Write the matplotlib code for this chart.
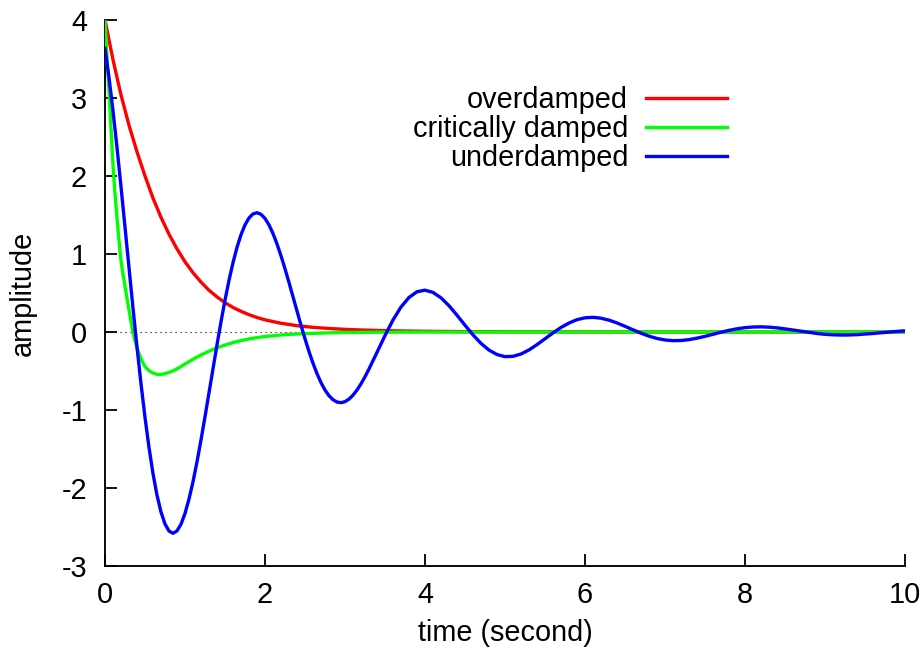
import matplotlib
matplotlib.use("Agg")
import matplotlib.pyplot as plt

plt.rcParams['font.family'] = ['Liberation Sans', 'DejaVu Sans']

# ---- data ----
t_over = [0.0, 0.1, 0.2, 0.3, 0.4, 0.5, 0.6, 0.7, 0.8, 0.9, 1.0, 1.1, 1.2, 1.3,
          1.4, 1.5, 1.6, 1.7, 1.8, 1.9, 2.0, 2.2, 2.4, 2.6, 2.8, 3.0, 3.2, 3.4,
          3.6, 3.8, 4.0, 4.5, 5.0, 6.0, 7.0, 8.0, 9.0, 10.0]
overdamped = [4.00, 3.49, 3.04, 2.65, 2.31, 2.00, 1.716, 1.47, 1.254, 1.065,
              0.90, 0.76, 0.64, 0.535, 0.45, 0.375, 0.315, 0.265, 0.222, 0.186,
              0.156, 0.112, 0.081, 0.060, 0.045, 0.034, 0.026, 0.020, 0.015,
              0.012, 0.009, 0.005, 0.003, 0.001, 0.0, 0.0, 0.0, 0.0]

t_crit = [0.0, 0.025, 0.05, 0.075, 0.1, 0.125, 0.15, 0.175, 0.2, 0.225, 0.25,
          0.275, 0.3, 0.325, 0.35, 0.375, 0.4, 0.45, 0.5, 0.55, 0.6, 0.65, 0.7,
          0.75, 0.8, 0.85, 0.9, 0.95, 1.0, 1.1, 1.2, 1.3, 1.4, 1.5, 1.6, 1.7,
          1.8, 1.9, 2.0, 2.2, 2.4, 2.6, 2.8, 3.0, 3.5, 4.0, 5.0, 6.0, 7.0, 8.0,
          9.0, 10.0]
critical = [4.00, 3.53, 3.08, 2.60, 2.14, 1.77, 1.46, 1.17, 0.915, 0.74, 0.585,
            0.43, 0.285, 0.135, -0.01, -0.11, -0.205, -0.345, -0.445, -0.495,
            -0.527, -0.543, -0.544, -0.534, -0.518, -0.498, -0.472, -0.442,
            -0.41, -0.35, -0.295, -0.246, -0.203, -0.167, -0.136, -0.110,
            -0.089, -0.072, -0.058, -0.038, -0.025, -0.017, -0.011, -0.007,
            -0.002, -0.001, 0.0, 0.0, 0.0, 0.0, 0.0, 0.0]

t_under = [0.00, 0.05, 0.10, 0.15, 0.20, 0.25, 0.30, 0.35, 0.40, 0.45, 0.50,
           0.55, 0.60, 0.65, 0.70, 0.75, 0.80, 0.85, 0.90, 0.95, 1.00, 1.05,
           1.10, 1.15, 1.20, 1.25, 1.30, 1.35, 1.40, 1.45, 1.50, 1.55, 1.60,
           1.65, 1.70, 1.75, 1.80, 1.85, 1.90, 1.95, 2.00, 2.05, 2.10, 2.15,
           2.20, 2.25, 2.30, 2.35, 2.40, 2.45, 2.50, 2.55, 2.60, 2.65, 2.70,
           2.75, 2.80, 2.85, 2.90, 2.95, 3.00, 3.05, 3.10, 3.15, 3.20, 3.25,
           3.30, 3.35, 3.40, 3.45, 3.50, 3.6, 3.7, 3.8, 3.9, 4.0, 4.1, 4.2,
           4.3, 4.4, 4.5, 4.6, 4.7, 4.8, 4.9, 5.0, 5.1, 5.2, 5.3, 5.4, 5.5,
           5.6, 5.7, 5.8, 5.9, 6.0, 6.1, 6.2, 6.3, 6.4, 6.5, 6.6, 6.7, 6.8,
           6.9, 7.0, 7.1, 7.2, 7.3, 7.4, 7.5, 7.6, 7.7, 7.8, 7.9, 8.0, 8.1,
           8.2, 8.3, 8.4, 8.5, 8.6, 8.7, 8.8, 8.9, 9.0, 9.1, 9.2, 9.3, 9.4,
           9.5, 9.6, 9.7, 9.8, 9.9, 10.0]
underdamped = [3.636, 3.263, 2.835, 2.365, 1.863, 1.345, 0.821, 0.305, -0.194,
               -0.663, -1.095, -1.481, -1.815, -2.092, -2.308, -2.461, -2.552,
               -2.581, -2.550, -2.464, -2.326, -2.142, -1.920, -1.665, -1.384,
               -1.087, -0.779, -0.469, -0.164, 0.131, 0.408, 0.662, 0.889,
               1.085, 1.247, 1.373, 1.462, 1.514, 1.529, 1.509, 1.456, 1.373,
               1.262, 1.129, 0.977, 0.811, 0.634, 0.451, 0.268, 0.087, -0.087,
               -0.251, -0.400, -0.534, -0.649, -0.744, -0.817, -0.868, -0.898,
               -0.906, -0.893, -0.860, -0.810, -0.744, -0.664, -0.574, -0.474,
               -0.369, -0.261, -0.152, -0.046, 0.154, 0.320, 0.443, 0.516,
               0.536, 0.508, 0.438, 0.337, 0.215, 0.087, -0.037, -0.146, -0.232,
               -0.289, -0.316, -0.312, -0.282, -0.230, -0.162, -0.087, -0.012,
               0.058, 0.115, 0.158, 0.182, 0.188, 0.177, 0.152, 0.116, 0.073,
               0.028, -0.015, -0.053, -0.083, -0.102, -0.111, -0.109, -0.098,
               -0.079, -0.056, -0.029, -0.003, 0.021, 0.041, 0.056, 0.064,
               0.066, 0.062, 0.053, 0.040, 0.025, 0.009, -0.006, -0.019, -0.030,
               -0.036, -0.039, -0.038, -0.034, -0.027, -0.019, -0.010, -0.000,
               0.008, 0.015]

labels = ["overdamped", "critically damped", "underdamped"]
x_ticks = [0, 2, 4, 6, 8, 10]
y_ticks = [-3, -2, -1, 0, 1, 2, 3, 4]

# ---- figure ----
fig = plt.figure(figsize=(9.23, 6.53), dpi=100)
ax = fig.add_axes([105 / 923, 1 - 566 / 653, 800 / 923, 546 / 653])

FS = 20.8
LW = 2.4
ax.axhline(0, color="black", lw=0.8, ls=(0, (1, 3.5)), zorder=1)
ax.plot(t_over, overdamped, color="#ff0000", lw=LW, label=labels[0], zorder=2)
ax.plot(t_crit, critical, color="#00ff00", lw=LW, label=labels[1], zorder=3)
ax.plot(t_under, underdamped, color="#0000ff", lw=LW, label=labels[2], zorder=4)

ax.set_xlim(0, 10)
ax.set_ylim(-3, 4)
ax.set_xticks(x_ticks)
ax.set_yticks(y_ticks)
ax.set_xticklabels([str(v) for v in x_ticks])
ax.set_yticklabels([str(v) for v in y_ticks])
ax.spines["top"].set_visible(False)
ax.spines["right"].set_visible(False)
for s in ("left", "bottom"):
    ax.spines[s].set_linewidth(1.35)
ax.tick_params(direction="in", length=8.6, width=1.3, labelsize=FS,
               colors="black")
ax.tick_params(axis="y", pad=13)
ax.tick_params(axis="x", pad=11)

ax.set_xlabel("time (second)", fontsize=FS)
ax.set_ylabel("amplitude", fontsize=FS)
ax.xaxis.set_label_coords(0.5, -0.097)
ax.yaxis.set_label_coords(-0.085, 0.5)

leg = ax.legend(loc="upper right", bbox_to_anchor=((727 - 105) / 800, 0.879),
                frameon=False, fontsize=FS, markerfirst=False,
                handlelength=2.8, handletextpad=0.62, labelspacing=0.03,
                borderpad=0, borderaxespad=0)

fig.savefig("out.png", dpi=100)
